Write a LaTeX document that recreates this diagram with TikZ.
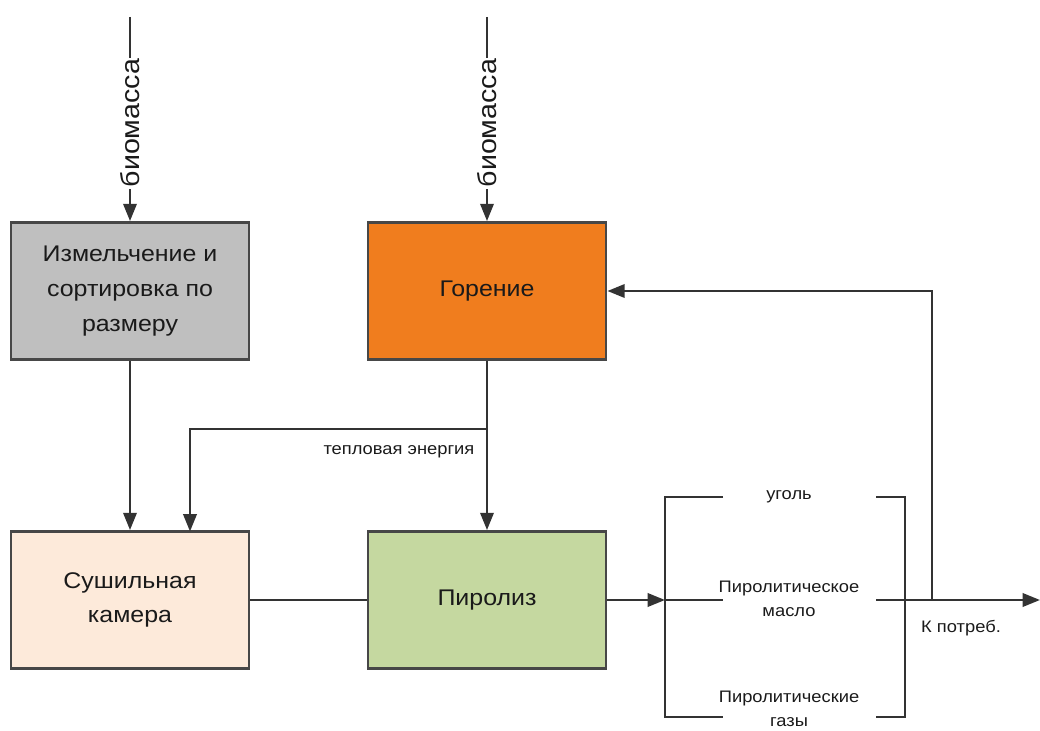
\documentclass[tikz,border=0pt]{standalone}
\usepackage{fontspec}
\setmainfont{Liberation Sans}[FakeStretch=1.1]
\usetikzlibrary{arrows.meta}
\definecolor{boxgray}{HTML}{BFBFBF}
\definecolor{boxorange}{HTML}{F07D1E}
\definecolor{boxpeach}{HTML}{FDEADA}
\definecolor{boxgreen}{HTML}{C5D8A0}
\definecolor{txt}{HTML}{1A1A1A}
\tikzset{
  procbox/.style={draw=black!72, line width=2.1pt, minimum width=178.5pt, minimum height=102.75pt,
    align=center, text=txt, font=\fontsize{17}{26}\selectfont, inner sep=0pt},
  conn/.style={draw=black!80, line width=1.9pt},
  arr/.style={conn, -{Triangle[length=13pt,width=10pt]}},
  small/.style={text=txt, font=\fontsize{12.5}{18}\selectfont, align=center, inner sep=1pt},
  biolabel/.style={text=txt, font=\fontsize{19.5}{20}\selectfont, rotate=90, fill=white, inner sep=1pt}
}
\begin{document}
\begin{tikzpicture}[x=0.75pt, y=-0.75pt]
\useasboundingbox (0,0) rectangle (1040,731);
% boxes
\node[procbox, fill=boxgray] (grind) at (130,291) {Измельчение и\\сортировка по\\размеру};
\node[procbox, fill=boxorange] (burn) at (487,291) {Горение};
\node[procbox, fill=boxpeach] (dry) at (130,600) {Сушильная\\камера};
\node[procbox, fill=boxgreen] (pyro) at (487,600) {Пиролиз};
% inputs
\coordinate (in1) at (130,17);
\coordinate (in2) at (487,17);
\draw[arr] (in1) -- (grind.north) node[biolabel, pos=0.52] {биомасса};
\draw[arr] (in2) -- (burn.north) node[biolabel, pos=0.52] {биомасса};
% grind to dry
\draw[arr] (grind.south) -- (dry.north);
% heat
\draw[arr] (burn.south) -- (pyro.north);
\coordinate (heat) at (487,429);
\coordinate (dryin) at (190,531.5);
\draw[arr] (heat) -| (dryin);
\node[small, anchor=east] (heatlbl) at (476,452) {тепловая энергия};
% dry to pyro
\draw[conn] (dry.east) -- (pyro.west);
% pyro to bracket
\coordinate (brl) at (665,600);
\draw[arr] (pyro.east) -- (brl);
% bracket
\coordinate (b1) at (723,497);
\coordinate (b2) at (665,497);
\coordinate (b3) at (665,717);
\coordinate (b4) at (723,717);
\coordinate (c1) at (876,497);
\coordinate (c2) at (905,497);
\coordinate (c3) at (905,717);
\coordinate (c4) at (876,717);
\draw[conn] (b1) -- (b2) -- (b3) -- (b4);
\draw[conn] (c1) -- (c2) -- (c3) -- (c4);
\coordinate (m1) at (723,600);
\draw[conn] (brl) -- (m1);
\coordinate (m2) at (876,600);
\coordinate (out) at (1040,600);
\draw[arr] (m2) -- (out);
% feedback
\coordinate (fb) at (932,600);
\draw[arr] (fb) |- (burn.east);
% product labels
\node[small] (coal) at (789,497) {уголь};
\node[small] (oil) at (789,599) {Пиролитическое\\масло};
\node[small] (gas) at (789,709) {Пиролитические\\газы};
\node[small] (cons) at (961,628) {К потреб.};
\end{tikzpicture}
\end{document}
